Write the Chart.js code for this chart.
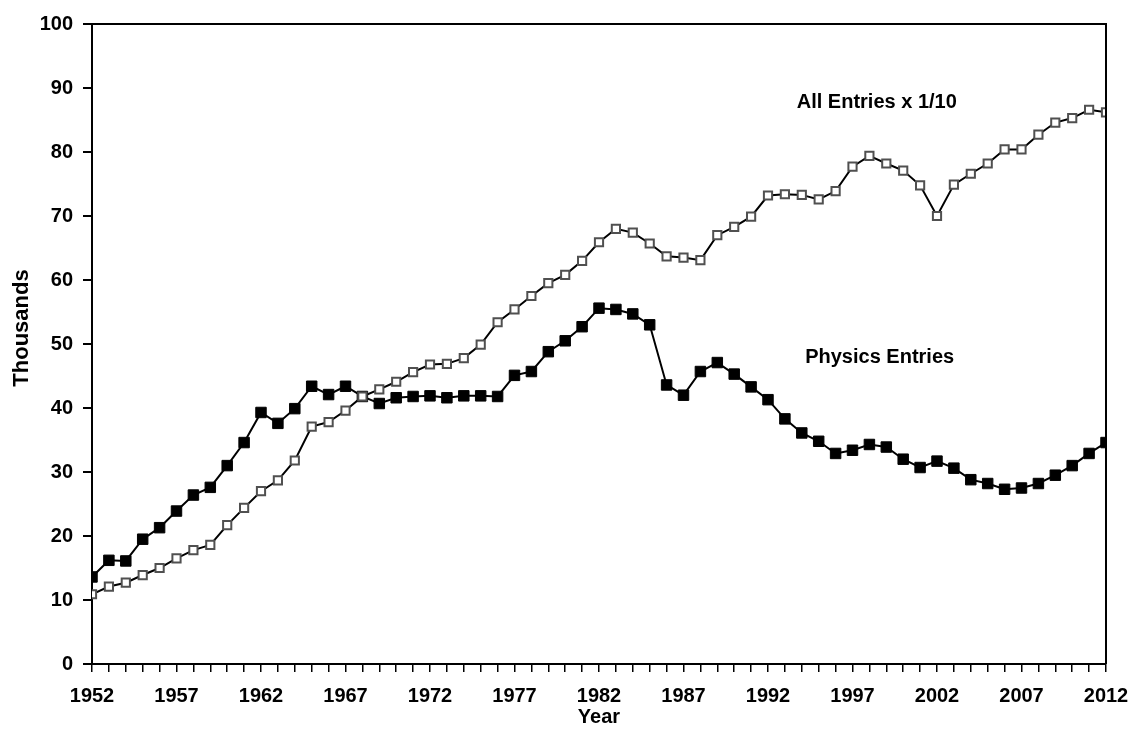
<!DOCTYPE html>
<html>
<head>
<meta charset="utf-8">
<script src="https://cdn.jsdelivr.net/npm/chart.js@4/dist/chart.umd.min.js"></script>
<style>
  html, body { margin: 0; padding: 0; background: #fff; }
</style>
</head>
<body>
<canvas id="chart" width="1130" height="729"></canvas>
<script>
// years on the x axis, one point per year
const firstYear = 1952;
const lastYear = 2012;
const years = [];
for (let y = firstYear; y <= lastYear; y++) years.push(y);

// labelled years on the x axis
const xLabelYears = [1952, 1957, 1962, 1967, 1972, 1977, 1982, 1987, 1992, 1997, 2002, 2007, 2012];

// Physics entries (thousands)
const physicsEntries = [
  13.6, 16.2, 16.1, 19.5, 21.3, 23.9, 26.4, 27.6, 31.0, 34.6,
  39.3, 37.6, 39.9, 43.4, 42.1, 43.4, 41.8, 40.7, 41.6, 41.8,
  41.9, 41.6, 41.9, 41.9, 41.8, 45.1, 45.7, 48.8, 50.5, 52.7,
  55.6, 55.4, 54.7, 53.0, 43.6, 42.0, 45.7, 47.1, 45.3, 43.3,
  41.3, 38.3, 36.1, 34.8, 32.9, 33.4, 34.3, 33.9, 32.0, 30.7,
  31.7, 30.6, 28.8, 28.2, 27.3, 27.5, 28.2, 29.5, 31.0, 32.9,
  34.6
];

// All entries x 1/10 (thousands)
const allEntries = [
  10.9, 12.1, 12.7, 13.9, 15.0, 16.5, 17.8, 18.6, 21.7, 24.4,
  27.0, 28.7, 31.8, 37.1, 37.8, 39.6, 41.8, 42.9, 44.1, 45.6,
  46.8, 46.9, 47.8, 49.9, 53.4, 55.4, 57.5, 59.5, 60.8, 63.0,
  65.9, 68.0, 67.4, 65.7, 63.7, 63.5, 63.1, 67.0, 68.3, 69.9,
  73.2, 73.4, 73.3, 72.6, 73.9, 77.7, 79.4, 78.2, 77.1, 74.8,
  70.0, 74.9, 76.6, 78.2, 80.4, 80.4, 82.7, 84.6, 85.3, 86.6,
  86.2
];

// series labels written inside the plot, anchored in data units
const seriesNotes = [
  { text: 'All Entries x 1/10', x: 1993.7, y: 87.8 },
  { text: 'Physics Entries', x: 1994.2, y: 47.9 }
];

const yTitle = 'Thousands';

const toPoints = vals => vals.map((v, i) => ({ x: years[i], y: v }));

Chart.defaults.font.family = '"Liberation Sans", Arial, sans-serif';
Chart.defaults.font.weight = 'bold';
Chart.defaults.font.size = 20;
Chart.defaults.color = '#000';

// frame on top and right, the y title and the in-plot notes
const framePlugin = {
  id: 'frame',
  afterDatasetsDraw(chart) {
    const { ctx, chartArea: a, scales } = chart;
    ctx.save();
    ctx.strokeStyle = '#000';
    ctx.lineWidth = 2;
    ctx.beginPath();
    ctx.moveTo(a.left, a.top);
    ctx.lineTo(a.right, a.top);
    ctx.lineTo(a.right, a.bottom);
    ctx.stroke();

    ctx.fillStyle = '#000';
    ctx.font = 'bold 20px "Liberation Sans", Arial, sans-serif';
    ctx.textAlign = 'left';
    ctx.textBaseline = 'middle';
    seriesNotes.forEach(n => {
      ctx.fillText(n.text, scales.x.getPixelForValue(n.x), scales.y.getPixelForValue(n.y));
    });

    // y axis title, a little above the middle as in the original
    ctx.font = 'bold 22px "Liberation Sans", Arial, sans-serif';
    ctx.textAlign = 'center';
    ctx.translate(22, scales.y.getPixelForValue(52.5));
    ctx.rotate(-Math.PI / 2);
    ctx.fillText(yTitle, 0, 0);
    ctx.restore();
  }
};

new Chart(document.getElementById('chart'), {
  type: 'line',
  data: {
    datasets: [
      {
        label: 'All Entries x 1/10',
        data: toPoints(allEntries),
        borderColor: '#000',
        borderWidth: 2,
        pointStyle: 'rect',
        pointRadius: 5.8,
        pointBorderWidth: 2,
        pointBorderColor: '#505050',
        pointBackgroundColor: '#fff',
        tension: 0
      },
      {
        label: 'Physics Entries',
        data: toPoints(physicsEntries),
        borderColor: '#000',
        borderWidth: 2,
        pointStyle: 'rect',
        pointRadius: 7.4,
        pointBorderWidth: 1,
        pointBorderColor: '#000',
        pointBackgroundColor: '#000',
        tension: 0
      }
    ]
  },
  options: {
    responsive: false,
    animation: false,
    events: [],
    layout: { padding: { top: 24, right: 24, left: 0, bottom: 0 } },
    plugins: {
      legend: { display: false },
      tooltip: { enabled: false }
    },
    scales: {
      x: {
        type: 'linear',
        min: firstYear,
        max: lastYear,
        afterFit: s => {
          s.height = 65;
          s.paddingLeft = 0;
          s.paddingRight = 0;
        },
        afterBuildTicks: s => {
          s.ticks = years.map(v => ({ value: v }));
        },
        ticks: {
          autoSkip: false,
          maxRotation: 0,
          padding: 12,
          callback: v => (xLabelYears.includes(v) ? String(v) : '')
        },
        grid: {
          drawOnChartArea: false,
          drawTicks: true,
          tickLength: 8,
          color: '#000',
          lineWidth: 1.5
        },
        border: { display: true, color: '#000', width: 2 },
        title: {
          display: true,
          text: 'Year',
          font: { size: 20, weight: 'bold' },
          padding: { top: 0, bottom: 0 }
        }
      },
      y: {
        min: 0,
        max: 100,
        afterFit: s => {
          s.width = 92;
          s.paddingTop = 0;
          s.paddingBottom = 0;
        },
        ticks: { stepSize: 10, padding: 10 },
        grid: {
          drawOnChartArea: false,
          drawTicks: true,
          tickLength: 9,
          color: '#000',
          lineWidth: 2
        },
        border: { display: true, color: '#000', width: 2 },
        title: { display: false }
      }
    }
  },
  plugins: [framePlugin]
});
</script>
</body>
</html>
